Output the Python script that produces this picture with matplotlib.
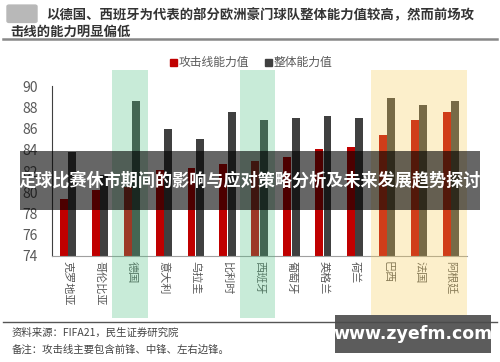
import matplotlib
matplotlib.use('Agg')
import matplotlib.pyplot as plt
import matplotlib.transforms as mtransforms
from matplotlib.patches import Rectangle, FancyBboxPatch
import numpy as np

plt.rcParams['font.family'] = ['Noto Sans CJK SC', 'DejaVu Sans']

countries = ['克罗地亚', '哥伦比亚', '德国', '意大利', '乌拉圭', '比利时', '西班牙',
             '葡萄牙', '英格兰', '荷兰', '巴西', '法国', '阿根廷']
attack = [79.4, 80.2, 80.5, 82.1, 82.3, 82.7, 82.9, 83.3, 84.1, 84.3, 85.4, 86.8, 87.6]
overall = [83.8, 81.6, 88.6, 86.0, 85.0, 87.6, 86.8, 87.0, 87.2, 87.0, 88.9, 88.2, 88.6]
green_idx = [2, 6]
yellow_idx = [10, 11, 12]

title = '以德国、西班牙为代表的部分欧洲豪门球队整体能力值较高，然而前场攻\n击线的能力明显偏低'
banner = '足球比赛休市期间的影响与应对策略分析及未来发展趋势探讨'
source = '资料来源：FIFA21，民生证券研究院'
note = '备注：攻击线主要包含前锋、中锋、左右边锋。'

fig = plt.figure(figsize=(5, 3.62), dpi=100)
ax = fig.add_axes([0.104, 0.293, 0.830, 0.469])

x = np.arange(len(countries))
w = 0.25
ax.bar(x - 0.13, attack, width=w, color='#c00000', zorder=2)
ax.bar(x + 0.13, overall, width=w, color='#404040', zorder=2)

ax.set_xlim(-0.5, len(countries) - 0.5)
ax.set_ylim(74, 90)
ax.set_yticks(range(74, 91, 2))
ax.tick_params(axis='y', length=0, labelsize=10, labelcolor='#595959', pad=10)
ax.set_xticks(x)
ax.set_xticklabels(countries, rotation=-90, fontsize=8, color='#595959')
ax.tick_params(axis='x', length=0, pad=4)
for s in ['top', 'right']:
    ax.spines[s].set_visible(False)
ax.spines['left'].set_color('#404040')
ax.spines['bottom'].set_color('#a0a0a0')

# highlight bands (semi-transparent, over bars and labels)
trans = mtransforms.blended_transform_factory(ax.transData, fig.transFigure)
for i in green_idx:
    ax.add_patch(Rectangle((i - 0.62, 0.122), 1.12, 0.685, transform=trans,
                           color='#4bc080', alpha=0.3, lw=0, clip_on=False, zorder=5))
ax.add_patch(Rectangle((yellow_idx[0] - 0.5, 0.130), len(yellow_idx), 0.677, transform=trans,
                       color='#f8cd55', alpha=0.3, lw=0, clip_on=False, zorder=5))

# legend
fig.patches.append(Rectangle((0.340, 0.818), 0.014, 0.020, transform=fig.transFigure,
                             color='#c00000', figure=fig))
fig.text(0.358, 0.828, '攻击线能力值', fontsize=8.5, color='#595959', va='center')
fig.patches.append(Rectangle((0.530, 0.818), 0.014, 0.020, transform=fig.transFigure,
                             color='#404040', figure=fig))
fig.text(0.548, 0.828, '整体能力值', fontsize=8.5, color='#595959', va='center')

# title area
fig.patches.append(FancyBboxPatch((0.018, 0.942), 0.052, 0.040, boxstyle='round,pad=0.004',
                                  transform=fig.transFigure, color='#b8b8b8', figure=fig))
fig.text(0.093, 0.958, title.split('\n')[0], fontsize=9.6, fontweight='bold',
         color='#333333', va='center')
fig.text(0.02, 0.912, title.split('\n')[1], fontsize=9.6, fontweight='bold',
         color='#333333', va='center')
fig.add_artist(plt.Line2D([0.006, 0.994], [0.892, 0.892], color='#888888', lw=1.8))

# footer
fig.add_artist(plt.Line2D([0.006, 0.994], [0.110, 0.110], color='#555555', lw=1))
fig.text(0.024, 0.080, source, fontsize=7.5, color='#444444', va='center')
fig.text(0.024, 0.033, note, fontsize=7.5, color='#444444', va='center')

# banner overlay
fig.patches.append(Rectangle((0.040, 0.420), 0.920, 0.164, transform=fig.transFigure,
                             color='black', alpha=0.6, lw=0, figure=fig, zorder=10))
fig.text(0.500, 0.502, banner, fontsize=12.3, fontweight='bold', color='white',
         ha='center', va='center', zorder=11)

# watermark
fig.patches.append(Rectangle((0.670, 0.025), 0.312, 0.105, transform=fig.transFigure,
                             color='#4a4a4a', alpha=0.9, lw=0, figure=fig, zorder=10))
fig.text(0.826, 0.078, 'www.zyefm.com', fontsize=12.5, fontweight='bold', color='white',
         family='DejaVu Sans', ha='center', va='center', zorder=11)

fig.savefig('out.png', dpi=100)
